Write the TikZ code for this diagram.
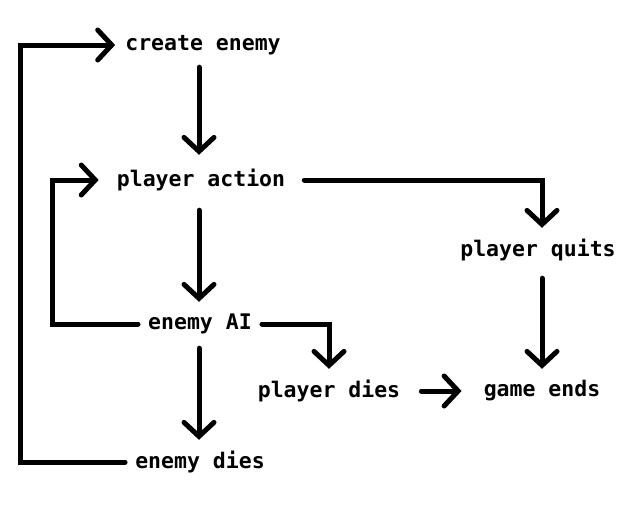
\documentclass[tikz,border=0pt]{standalone}
\usepackage{fontspec}
\setmonofont{DejaVu Sans Mono}
\usetikzlibrary{arrows.meta}
\begin{document}
\begin{tikzpicture}[x=1pt,y=-1pt]
            \tikzset{state/.style={inner xsep=10pt, inner ysep=0pt, minimum height=44pt,
                    font=\ttfamily\bfseries\fontsize{21.5}{22}\selectfont},
                flow/.style={line width=5pt, line cap=round, line join=miter,
                    -{Straight Barb[length=14pt, width=30pt, line cap=round]}}}
                \useasboundingbox (0,0) rectangle (639,512);
                \node [state] (create) at (203,45) {create enemy};
                \node [state] (action) at (201,180) {player action};
                \node [state] (quits) at (538,250) {player quits};
                \node [state] (ai) at (200,324) {enemy AI};
                \node [state] (pdies) at (329,391) {player dies};
                \node [state] (ends) at (542,391) {game ends};
                \node [state] (edies) at (200,462) {enemy dies};
                \draw [flow, shorten >=3pt] (create.south -| 199,0) -- (action.north -| 199,0);
                \draw [flow, shorten <=8pt] (action.south -| 199,0) -- (ai.north -| 199,0);
                \draw [flow, shorten <=2pt] (ai.south -| 199,0) -- (edies.north -| 199,0);
                \draw [flow] (edies.west) -- ++(-105,0) |- (create.west);
                \draw [flow, shorten >=8pt] (ai.west) -- ++(-86,0) |- (action.west);
                \draw [flow, shorten <=9pt] (action.east) -| (quits.north -| ends.north);
                \draw [flow] (ai.east) -| (pdies.north);
                \draw [flow, shorten <=6pt] (quits.south -| ends.north) -- (ends.north);
                \draw [flow, shorten <=11pt, shorten >=12pt] (pdies.east) -- (ends.west);
            \end{tikzpicture}
\end{document}
